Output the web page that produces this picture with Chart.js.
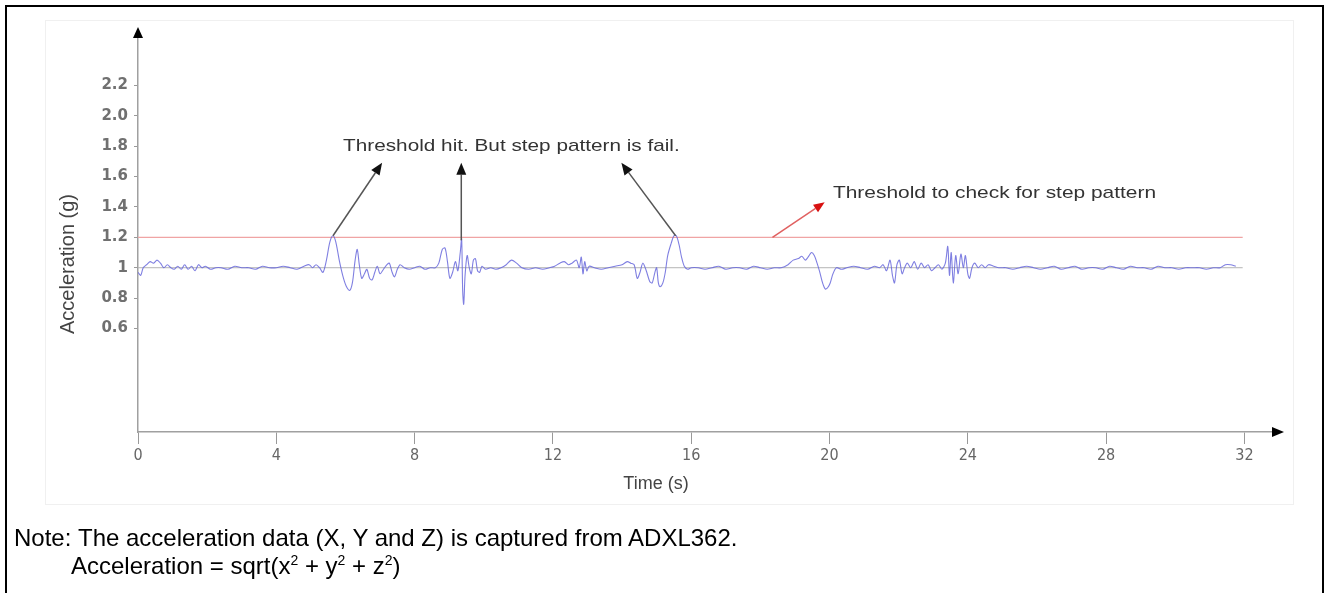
<!DOCTYPE html>
<html>
<head>
<meta charset="utf-8">
<script src="https://cdn.jsdelivr.net/npm/chart.js@4.4.1/dist/chart.umd.min.js"></script>
<style>
  html, body { margin: 0; padding: 0; background: #fff; }
  body { width: 1328px; height: 593px; position: relative; overflow: hidden; font-family: 'Liberation Sans', Arial, sans-serif; }
  #frame { position: absolute; left: 5px; top: 5px; width: 1315px; height: 600px; border: 2px solid #000; border-bottom: none; }
  #photo { position: absolute; left: 45px; top: 20px; width: 1247px; height: 483px; border: 1px solid #f0f0f0; }
  #chartBox { position: absolute; left: 0; top: 0; width: 1328px; height: 520px; }
  .note { position: absolute; font-size: 24px; color: #000; white-space: nowrap; line-height: 28px; }
  .note sup { font-size: 14px; vertical-align: 9px; line-height: 0; }
</style>
</head>
<body>
<div id="photo"></div>
<div id="chartBox"><canvas id="myChart" width="1328" height="520"></canvas></div>
<div id="frame"></div>
<div class="note" style="left:14px; top:524px;">Note:</div>
<div class="note" style="left:78px; top:524px;">The acceleration data (X, Y and Z) is captured from ADXL362.</div>
<div class="note" style="left:71px; top:552px;">Acceleration = sqrt(x<sup>2</sup> + y<sup>2</sup> + z<sup>2</sup>)</div>
<script>
// acceleration magnitude samples
const timeS = [
  0.0, 0.08, 0.15, 0.25, 0.35, 0.45, 0.55, 0.65, 0.75, 0.85, 0.95, 1.05, 1.15, 1.25, 1.35, 1.45, 1.55, 1.65, 1.75, 1.85,
  1.95, 2.1, 2.25, 2.4, 2.6, 2.8, 3.0, 3.2, 3.4, 3.6, 3.8, 4.0, 4.2, 4.4, 4.6, 4.8, 4.95, 5.05, 5.15, 5.25,
  5.35, 5.45, 5.55, 5.64, 5.72, 5.82, 5.92, 6.02, 6.12, 6.2, 6.28, 6.34, 6.4, 6.47, 6.55, 6.62, 6.7, 6.77, 6.85, 6.92,
  7.0, 7.1, 7.2, 7.27, 7.35, 7.42, 7.5, 7.58, 7.7, 7.85, 8.0, 8.15, 8.3, 8.45, 8.6, 8.7, 8.8, 8.88, 8.95, 9.02,
  9.1, 9.18, 9.25, 9.32, 9.36, 9.39, 9.42, 9.46, 9.52, 9.58, 9.64, 9.7, 9.76, 9.82, 9.88, 9.95, 10.05, 10.2, 10.35, 10.5,
  10.65, 10.8, 10.95, 11.1, 11.3, 11.5, 11.7, 11.9, 12.05, 12.2, 12.33, 12.45, 12.55, 12.68, 12.76, 12.82, 12.87, 12.92, 12.98, 13.05,
  13.2, 13.4, 13.6, 13.8, 14.0, 14.15, 14.25, 14.35, 14.44, 14.52, 14.6, 14.7, 14.8, 14.87, 14.95, 15.0, 15.05, 15.1, 15.18, 15.25,
  15.32, 15.42, 15.5, 15.57, 15.65, 15.72, 15.8, 15.9, 16.0, 16.2, 16.4, 16.6, 16.8, 17.0, 17.2, 17.4, 17.6, 17.8, 18.0, 18.2,
  18.4, 18.6, 18.8, 18.95, 19.1, 19.2, 19.3, 19.38, 19.48, 19.56, 19.64, 19.72, 19.8, 19.88, 19.95, 20.02, 20.1, 20.2, 20.35, 20.5,
  20.7, 20.9, 21.1, 21.3, 21.45, 21.55, 21.65, 21.75, 21.82, 21.88, 21.95, 22.02, 22.1, 22.17, 22.25, 22.35, 22.45, 22.55, 22.65, 22.75,
  22.85, 22.95, 23.05, 23.15, 23.25, 23.35, 23.42, 23.47, 23.52, 23.58, 23.65, 23.72, 23.8, 23.87, 23.93, 24.0, 24.05, 24.12, 24.2, 24.3,
  24.4, 24.5, 24.6, 24.75, 24.9, 25.1, 25.3, 25.5, 25.7, 25.9, 26.1, 26.3, 26.5, 26.7, 26.9, 27.1, 27.3, 27.5, 27.7, 27.9,
  28.1, 28.3, 28.5, 28.7, 28.9, 29.1, 29.3, 29.5, 29.7, 29.9, 30.1, 30.3, 30.5, 30.7, 30.9, 31.1, 31.3, 31.45, 31.6, 31.75
];
const accelG = [
  0.97, 0.95, 1.0, 1.02, 1.04, 1.03, 1.05, 1.03, 1.0, 1.02, 1.0, 0.99, 1.01, 0.99, 1.02, 0.99, 1.01, 0.98, 1.02, 1.0,
  1.01, 0.99, 1.0, 1.0, 0.99, 1.01, 1.0, 1.0, 0.99, 1.01, 1.0, 1.0, 1.01, 1.0, 0.99, 1.01, 1.02, 1.0, 1.02, 1.0,
  0.97, 1.05, 1.17, 1.21, 1.17, 1.05, 0.95, 0.88, 0.85, 0.9, 1.05, 1.12, 1.02, 0.93, 0.96, 0.99, 0.93, 0.92, 0.97, 1.01,
  0.96, 0.99, 1.02, 1.03, 0.97, 0.94, 0.99, 1.02, 1.0, 0.99, 1.0, 1.01, 0.99, 1.0, 1.0, 1.03, 1.12, 1.13, 1.04, 0.93,
  0.97, 1.04, 0.98, 1.1, 1.19, 0.85, 0.76, 0.95, 1.08, 1.0, 0.96, 1.05, 1.06, 0.98, 0.97, 1.01, 0.99, 1.0, 0.99, 1.0,
  1.02, 1.05, 1.03, 1.0, 0.99, 1.0, 0.99, 1.0, 1.01, 1.03, 1.04, 1.02, 1.03, 1.05, 1.0, 1.07, 0.96, 1.04, 0.98, 1.01,
  1.0, 0.99, 1.0, 1.01, 1.02, 1.04, 1.03, 1.02, 0.93, 0.97, 1.03, 0.98, 0.91, 0.9, 0.97, 1.0, 0.9, 0.875, 0.9, 0.97,
  1.08, 1.16, 1.21, 1.21, 1.15, 1.07, 1.01, 0.99, 1.0, 1.0, 0.99, 1.0, 1.01, 0.99, 1.0, 1.0, 0.99, 1.01, 1.0, 0.99,
  1.0, 1.0, 1.02, 1.05, 1.06, 1.075, 1.05, 1.07, 1.1, 1.08, 1.03, 0.97, 0.9, 0.86, 0.87, 0.9, 0.96, 1.0, 0.99, 1.0,
  1.01, 1.0, 0.99, 1.01, 1.0, 1.02, 0.98, 1.05, 0.95, 0.9, 1.02, 1.05, 0.96, 1.0, 1.03, 1.0, 1.04, 0.99, 1.03, 1.0,
  1.02, 0.98, 1.0, 1.02, 0.99, 1.03, 1.14, 0.95, 1.1, 0.9, 1.08, 0.96, 1.09, 1.0, 1.08, 0.96, 0.93, 1.0, 1.03, 1.0,
  1.02, 1.0, 1.02, 1.01, 1.0, 1.0, 0.99, 1.0, 1.01, 1.0, 0.99, 1.0, 1.01, 0.99, 1.0, 1.01, 0.99, 1.0, 1.0, 0.99,
  1.01, 1.0, 0.99, 1.01, 1.0, 1.0, 0.99, 1.01, 1.0, 1.0, 0.99, 1.0, 1.0, 1.0, 0.99, 1.0, 1.0, 1.02, 1.02, 1.01
];

const thresholdG = 1.2;
const restG = 1.0;
const lineEndS = 31.95;

const xTicks = [0, 4, 8, 12, 16, 20, 24, 28, 32];
const yTicks = [0.6, 0.8, 1, 1.2, 1.4, 1.6, 1.8, 2.0, 2.2];
const yTickLabels = ['0.6', '0.8', '1', '1.2', '1.4', '1.6', '1.8', '2.0', '2.2'];

const xTitle = 'Time (s)';
const yTitle = 'Acceleration (g)';
const hitNote = 'Threshold hit. But step pattern is fail.';
const thresholdNote = 'Threshold to check for step pattern';

// arrows: [fromX, fromY, toX, toY] in data units
const hitArrows = [
  [5.64, 1.21, 7.06, 1.69],
  [9.35, 1.18, 9.35, 1.69],
  [15.55, 1.21, 13.98, 1.69]
];
const thresholdArrow = [18.35, 1.2, 19.86, 1.43];

function arrow(ctx, x1, y1, x2, y2, lineColor, headColor, len, half) {
  const ang = Math.atan2(y2 - y1, x2 - x1);
  const bx = x2 - len * Math.cos(ang), by = y2 - len * Math.sin(ang);
  ctx.strokeStyle = lineColor;
  ctx.lineWidth = 1.5;
  ctx.beginPath();
  ctx.moveTo(x1, y1);
  ctx.lineTo(bx, by);
  ctx.stroke();
  ctx.fillStyle = headColor;
  ctx.beginPath();
  ctx.moveTo(x2, y2);
  ctx.lineTo(bx + half * Math.sin(ang), by - half * Math.cos(ang));
  ctx.lineTo(bx - half * Math.sin(ang), by + half * Math.cos(ang));
  ctx.closePath();
  ctx.fill();
}

function stretchedText(ctx, text, x, y, size, sx, align) {
  ctx.save();
  ctx.font = size + "px 'Liberation Sans', Arial, sans-serif";
  ctx.textBaseline = 'middle';
  const w = ctx.measureText(text).width * sx;
  let left = x;
  if (align === 'center') left = x - w / 2;
  ctx.translate(left, y);
  ctx.scale(sx, 1);
  ctx.textAlign = 'left';
  ctx.fillText(text, 0, 0);
  ctx.restore();
}

const decor = {
  id: 'decor',
  afterDraw(chart) {
    const { ctx, chartArea, scales: { x, y } } = chart;
    ctx.save();
    // axis arrow heads
    ctx.fillStyle = '#000';
    ctx.beginPath();
    ctx.moveTo(chartArea.left, chartArea.top - 8);
    ctx.lineTo(chartArea.left - 5, chartArea.top + 3);
    ctx.lineTo(chartArea.left + 5, chartArea.top + 3);
    ctx.closePath();
    ctx.fill();
    ctx.beginPath();
    ctx.moveTo(chartArea.right + 5, chartArea.bottom);
    ctx.lineTo(chartArea.right - 7, chartArea.bottom - 5);
    ctx.lineTo(chartArea.right - 7, chartArea.bottom + 5);
    ctx.closePath();
    ctx.fill();

    // axis titles
    ctx.fillStyle = '#444';
    stretchedText(ctx, xTitle, 656, 484, 18, 1.0, 'center');
    ctx.save();
    ctx.translate(68, 264);
    ctx.rotate(-Math.PI / 2);
    ctx.font = "20px 'Liberation Sans', Arial, sans-serif";
    ctx.textAlign = 'center';
    ctx.textBaseline = 'middle';
    ctx.fillText(yTitle, 0, 0);
    ctx.restore();

    // annotations
    hitArrows.forEach(a => {
      arrow(ctx, x.getPixelForValue(a[0]), y.getPixelForValue(a[1]),
        x.getPixelForValue(a[2]), y.getPixelForValue(a[3]), '#555', '#111', 12, 5);
    });
    arrow(ctx, x.getPixelForValue(thresholdArrow[0]), y.getPixelForValue(thresholdArrow[1]),
      x.getPixelForValue(thresholdArrow[2]), y.getPixelForValue(thresholdArrow[3]), '#e06060', '#d81010', 11, 4.5);

    ctx.fillStyle = '#333';
    stretchedText(ctx, hitNote, x.getPixelForValue(10.8), y.getPixelForValue(1.8), 17, 1.22, 'center');
    stretchedText(ctx, thresholdNote, x.getPixelForValue(20.1), y.getPixelForValue(1.49), 17, 1.23, 'left');
    ctx.restore();
  }
};

const signal = timeS.map((t, i) => ({ x: t, y: accelG[i] }));

const ctx = document.getElementById('myChart');
const myChart = new Chart(ctx, {
  type: 'line',
  data: {
    datasets: [
      {
        label: 'Acceleration',
        data: signal,
        borderColor: 'rgba(105, 105, 220, 0.85)',
        borderWidth: 1.1,
        pointRadius: 0,
        tension: 0.3,
        fill: false
      },
      {
        label: 'Threshold',
        data: [{ x: 0, y: thresholdG }, { x: lineEndS, y: thresholdG }],
        borderColor: '#f0a4a4',
        borderWidth: 1.2,
        pointRadius: 0
      },
      {
        label: 'Rest',
        data: [{ x: 0, y: restG }, { x: lineEndS, y: restG }],
        borderColor: '#b4b4b4',
        borderWidth: 1,
        pointRadius: 0
      }
    ]
  },
  options: {
    responsive: false,
    animation: false,
    layout: { padding: { left: 56, top: 35, right: 49, bottom: 0 } },
    plugins: { legend: { display: false }, tooltip: { enabled: false } },
    scales: {
      x: {
        type: 'linear',
        min: 0,
        max: 33,
        afterBuildTicks: s => { s.ticks = xTicks.map(v => ({ value: v })); },
        afterFit: s => { s.height = 88; },
        border: { display: true, color: '#a0a0a0', width: 1.5 },
        grid: { display: true, drawOnChartArea: false, drawTicks: true, tickLength: 12, color: '#999', lineWidth: 1 },
        ticks: {
          autoSkip: false,
          maxRotation: 0,
          padding: 2,
          color: '#666',
          font: { family: "'Liberation Sans Narrow', 'DejaVu Sans Condensed', sans-serif", size: 16 }
        }
      },
      y: {
        type: 'linear',
        min: -0.08,
        max: 2.53,
        afterBuildTicks: s => { s.ticks = yTicks.map(v => ({ value: v })); },
        afterFit: s => { s.width = 82; },
        border: { display: true, color: '#a0a0a0', width: 1.5 },
        grid: { display: true, drawOnChartArea: false, drawTicks: true, tickLength: 4, color: '#999', lineWidth: 1 },
        ticks: {
          autoSkip: false,
          padding: 6,
          color: '#707070',
          font: { family: "'DejaVu Sans', sans-serif", size: 15, weight: 'bold' },
          callback: v => yTickLabels[yTicks.indexOf(v)]
        }
      }
    }
  },
  plugins: [decor]
});
</script>
</body>
</html>
